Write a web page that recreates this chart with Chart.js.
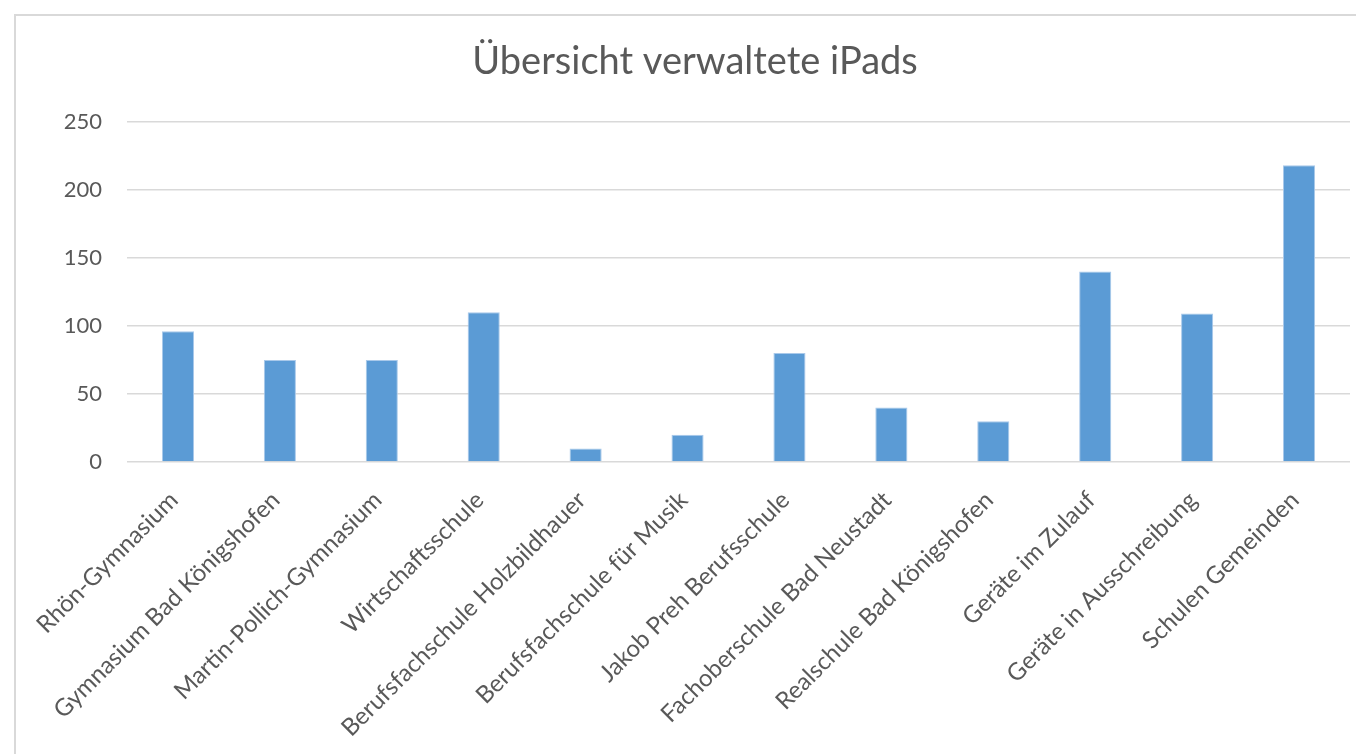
<!DOCTYPE html>
<html>
<head>
<meta charset="utf-8">
<script src="https://cdn.jsdelivr.net/npm/chart.js@4"></script>
<style>
  html, body { margin: 0; padding: 0; background: #fff; }
  #wrap { position: relative; width: 1356px; height: 754px; }
  #frame { position: absolute; left: 14px; top: 14px; right: -10px; bottom: -10px; border: 2px solid #d9d9d9; }
</style>
</head>
<body>
<div id="wrap">
  <canvas id="myChart" width="1356" height="754"></canvas>
  <div id="frame"></div>
</div>
<script>
// chart data
const schools = [
  "Rhön-Gymnasium",
  "Gymnasium Bad Königshofen",
  "Martin-Pollich-Gymnasium",
  "Wirtschaftsschule",
  "Berufsfachschule Holzbildhauer",
  "Berufsfachschule für Musik",
  "Jakob Preh Berufsschule",
  "Fachoberschule Bad Neustadt",
  "Realschule Bad Königshofen",
  "Geräte im Zulauf",
  "Geräte in Ausschreibung",
  "Schulen Gemeinden",
];
const ipads = [96, 75, 75, 110, 10, 20, 80, 40, 30, 140, 109, 218];
const yTicks = [0, 50, 100, 150, 200, 250];
const chartTitle = "Übersicht verwaltete iPads";

const textColor = "#595959";
const gridColor = "#d9d9d9";

const ctx = document.getElementById("myChart");
new Chart(ctx, {
  type: "bar",
  data: {
    labels: schools,
    datasets: [
      {
        label: "iPads",
        data: ipads,
        backgroundColor: "#5b9bd5",
        borderColor: "#a9c9ea",
        borderWidth: 1,
        barPercentage: 0.315,
        categoryPercentage: 1,
      },
    ],
  },
  options: {
    responsive: false,
    animation: false,
    layout: {
      // left padding moves the title centre right, like the original frame
      padding: { left: 40, right: 6, top: 0, bottom: 0 },
    },
    scales: {
      x: {
        grid: { display: false },
        border: { display: false },
        ticks: {
          color: textColor,
          font: { family: "Lato", size: 24 },
          minRotation: 45,
          maxRotation: 45,
          autoSkip: false,
          padding: 16,
          labelOffset: -4,
        },
        afterFit: function (scale) {
          scale.height = 292; // keep the plot bottom at the 0 line
        },
      },
      y: {
        min: 0,
        max: 250,
        afterBuildTicks: function (scale) {
          scale.ticks = yTicks.map((v) => ({ value: v }));
        },
        grid: { color: gridColor, lineWidth: 1.5, drawTicks: false },
        border: { display: false },
        ticks: {
          color: textColor,
          font: { family: "Lato", size: 22 },
          padding: 25,
        },
        afterFit: function (scale) {
          scale.width = 87; // plot starts at x = 127
        },
      },
    },
    plugins: {
      legend: { display: false },
      tooltip: { enabled: false },
      title: {
        display: true,
        text: chartTitle,
        color: textColor,
        font: { family: "Lato", size: 38, weight: "normal", lineHeight: 1.2 },
        padding: { top: 39, bottom: 37 },
      },
    },
  },
});
</script>
</body>
</html>
